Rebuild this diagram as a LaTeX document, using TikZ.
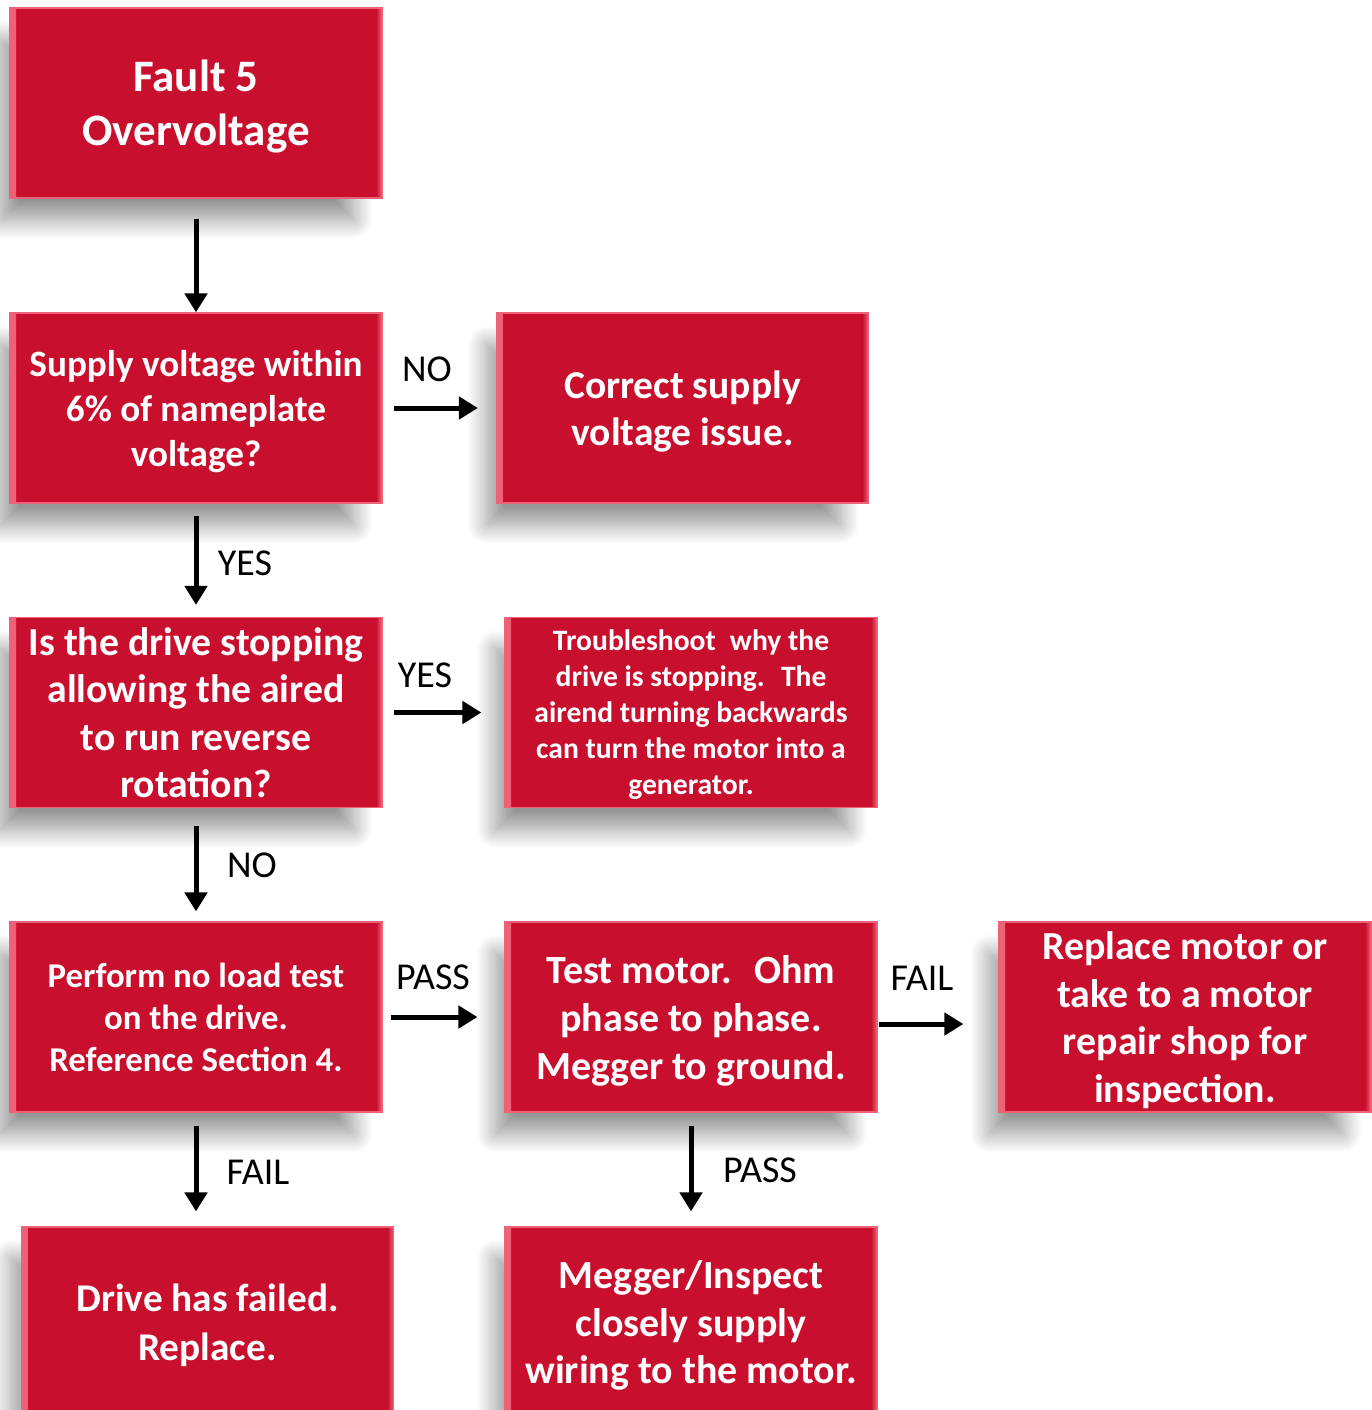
\documentclass[tikz,border=0pt]{standalone}
\usepackage{fontspec}
\setmainfont{Carlito}
\usetikzlibrary{arrows.meta,shadows.blur}

\definecolor{boxred}{RGB}{200,16,46}
\definecolor{bevel}{RGB}{238,98,120}

\newcommand{\fsz}[2]{\bfseries\fontsize{#1}{#2}\selectfont}

\tikzset{
  stepbox/.style={
    rectangle, fill=boxred, draw=bevel, line width=1.2pt,
    minimum width=372pt, minimum height=190pt, inner sep=0pt,
    align=center, text=white, text depth=0pt,
    font=\fsz{39.5}{47.5},
    blur shadow={shadow xshift=-20pt, shadow yshift=-28pt, shadow scale=0.95,
                 shadow blur radius=20pt, shadow blur steps=30,
                 shadow opacity=42},
    path picture={
      \fill[left color=bevel, right color=boxred]
        (path picture bounding box.north west) rectangle
        ([xshift=6pt]path picture bounding box.south west);
      \fill[left color=boxred, right color=bevel]
        ([xshift=-6pt]path picture bounding box.north east) rectangle
        (path picture bounding box.south east);
    }},
  arr/.style={line width=5pt, -{Triangle[length=19pt,width=22pt]}},
  lbl/.style={font=\fontsize{38}{44}\selectfont, text=black, inner sep=0pt}
}

\begin{document}
\begin{tikzpicture}[x=1pt,y=-1pt]
\useasboundingbox (0,0) rectangle (1372,1410);
\clip (0,0) rectangle (1372,1410);

% boxes
\node[stepbox, font=\fsz{45}{54}] (fault) at (196,103) {Fault 5\\Overvoltage};
\node[stepbox, font=\fsz{37.2}{45}] (supply) at (196,408) {Supply voltage within\\6\% of nameplate\\voltage?};
\node[stepbox, font=\fsz{39.5}{47}] (correct) at (682.5,408) {Correct supply\\voltage issue.};
\node[stepbox, font=\fsz{39.7}{47.5}] (drive) at (196,712.5) {Is the drive stopping\\allowing the aired\\to run reverse\\rotation?};
\node[stepbox, font=\fsz{29.6}{36}] (trouble) at (691,712.5)
  {Troubleshoot\hspace{0.25em} why the\\drive is stopping.\hspace{0.25em} The\\airend turning backwards\\can turn the motor into a\\generator.};
\node[stepbox, font=\fsz{34.8}{42}] (perform) at (196,1017) {Perform no load test\\on the drive.\\Reference Section 4.};
\node[stepbox, font=\fsz{40}{48}] (test) at (691,1017) {Test motor.\hspace{0.25em} Ohm\\phase to phase.\\Megger to ground.};
\node[stepbox, font=\fsz{39.8}{47.7}] (replace) at (1185,1017) {Replace motor or\\take to a motor\\repair shop for\\inspection.};
\node[stepbox, font=\fsz{39.3}{49}] (failed) at (207.5,1322) {Drive has failed.\\Replace.};
\node[stepbox, font=\fsz{39.9}{47.5}] (megger) at (691,1322) {Megger/Inspect\\closely supply\\wiring to the motor.};

% connectors
\draw[arr, shorten <=20pt] (fault) -- (supply);
\draw[arr, shorten <=12pt, shorten >=12pt] (supply) -- (drive);
\draw[arr, shorten <=18pt, shorten >=10pt] (drive) -- (perform);
\draw[arr, shorten <=13pt, shorten >=15pt] (perform.south) -- (perform.south |- failed.north);
\draw[arr, shorten <=13pt, shorten >=15pt] (test) -- (megger);
\draw[arr, shorten <=11pt, shorten >=18pt] (supply) -- (correct);
\draw[arr, shorten <=11pt, shorten >=23pt] (drive) -- (trouble);
\draw[arr, shorten <=8pt, shorten >=27pt] (perform) -- (test);
\draw[arr, shorten <=1pt, shorten >=35pt] ([yshift=-7pt]test.east) -- ([yshift=-7pt]replace.west);

% branch labels
\node[lbl] (l1) at (427,369) {NO};
\node[lbl] (l2) at (245,563) {YES};
\node[lbl] (l3) at (425,675) {YES};
\node[lbl] (l4) at (252,865) {NO};
\node[lbl] (l5) at (433,977) {PASS};
\node[lbl] (l6) at (922,978) {FAIL};
\node[lbl] (l7) at (258,1172) {FAIL};
\node[lbl] (l8) at (760,1170) {PASS};
\end{tikzpicture}
\end{document}
